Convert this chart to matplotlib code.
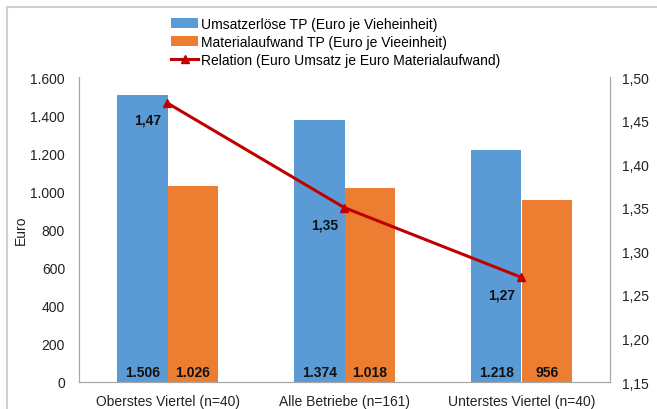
import numpy as np
import matplotlib.pyplot as plt
from matplotlib.patches import Rectangle

plt.rcParams['font.family'] = ['Liberation Sans', 'DejaVu Sans']

# data
categories = ['Oberstes Viertel (n=40)', 'Alle Betriebe (n=161)', 'Unterstes Viertel (n=40)']
umsatz = [1506, 1374, 1218]
material = [1026, 1018, 956]
relation = [1.47, 1.35, 1.27]
series_names = ['Umsatzerlöse TP (Euro je Vieheinheit)',
                'Materialaufwand TP (Euro je Vieeinheit)',
                'Relation (Euro Umsatz je Euro Materialaufwand)']

blue = '#5B9BD5'
orange = '#ED7D31'
red = '#C00000'
grey = '#A6A6A6'

def fmt_thousands(v):
    return '{:,.0f}'.format(v).replace(',', '.')

fig = plt.figure(figsize=(6.57, 4.10), dpi=100)
ax = fig.add_axes([79/657, 1-383/410, 531/657, 305/410])
ax2 = ax.twinx()

x = np.arange(len(categories))
w = 0.285
b1 = ax.bar(x - w/2, umsatz, w, color=blue, label=series_names[0])
b2 = ax.bar(x + w/2, material, w, color=orange, label=series_names[1])

for rect, v in list(zip(b1, umsatz)) + list(zip(b2, material)):
    ax.annotate(fmt_thousands(v), (rect.get_x() + rect.get_width()/2, 0),
                xytext=(0, 7), textcoords='offset points', ha='center', va='center',
                fontsize=10, fontweight='bold', color='#111111')

ln, = ax2.plot(x, relation, color=red, lw=2.2, marker='^', ms=6, label=series_names[2])
for xi, v in zip(x, relation):
    ax2.annotate('{:.2f}'.format(v).replace('.', ','), (xi, v),
                 xytext=(-14, -12), textcoords='offset points', ha='center', va='center',
                 fontsize=10, fontweight='bold', color='#111111')

ax.set_xlim(-0.5, 2.5)
ax.set_ylim(0, 1600)
ax.set_yticks(np.arange(0, 1601, 200))
ax.set_yticklabels([fmt_thousands(v) for v in np.arange(0, 1601, 200)])
ax2.set_ylim(1.15, 1.50)
r_ticks = np.arange(1.15, 1.5001, 0.05)
ax2.set_yticks(r_ticks)
ax2.set_yticklabels(['{:.2f}'.format(v).replace('.', ',') for v in r_ticks])
ax.set_xticks(x)
ax.set_xticklabels(categories)

for a in (ax, ax2):
    a.spines['top'].set_visible(False)
    for s in ('left', 'right', 'bottom'):
        a.spines[s].set_color(grey)
    a.tick_params(length=0, labelsize=10, colors='#222222')
ax.tick_params(axis='y', pad=10)
ax.tick_params(axis='x', pad=9)
ax2.tick_params(axis='y', pad=9)
ax.set_ylabel('Euro', fontsize=10, labelpad=2, color='#222222')

fig.legend(handles=[b1, b2, ln], labels=series_names, loc='upper left',
           bbox_to_anchor=(171/657, 1-18/410), frameon=False, fontsize=10,
           handlelength=1.95, handletextpad=0.2, labelspacing=0.3,
           borderpad=0, borderaxespad=0)

fig.patches.append(Rectangle((7/657, -0.05), 1.0, 1.05 - 8/410, transform=fig.transFigure,
                             fill=False, edgecolor='#D0D0D0', lw=1.5))

fig.savefig('out.png', dpi=100)
